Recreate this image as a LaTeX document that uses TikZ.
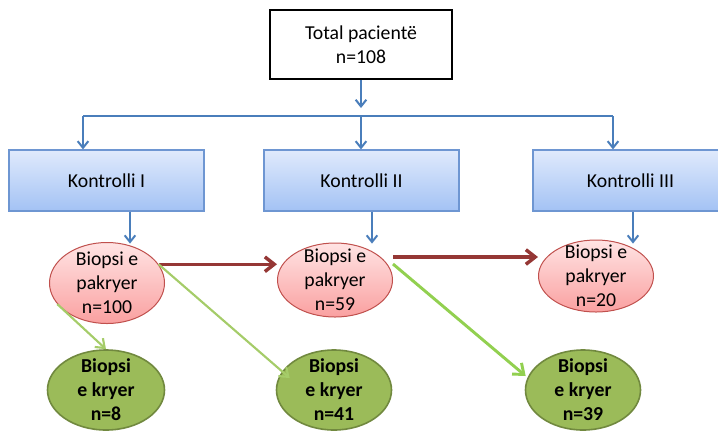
\documentclass[tikz,border=0pt]{standalone}
\usepackage{fontspec}
\setmainfont{Carlito}
\usepackage{xcolor}
\usepackage{tikz}
\usetikzlibrary{calc,arrows.meta,positioning,shapes.geometric}

\definecolor{linkblue}{RGB}{74,126,187}
\definecolor{boxedge}{RGB}{110,150,210}
\definecolor{boxtop}{RGB}{224,234,252}
\definecolor{boxbot}{RGB}{163,194,244}
\definecolor{pinkedge}{RGB}{192,80,77}
\definecolor{pinktop}{RGB}{255,228,228}
\definecolor{pinkbot}{RGB}{250,160,160}
\definecolor{stopred}{RGB}{149,55,53}
\definecolor{greenfill}{RGB}{155,187,89}
\definecolor{greenedge}{RGB}{113,137,63}
\definecolor{greenline}{RGB}{165,204,105}
\definecolor{greenbright}{RGB}{146,208,80}

\begin{document}
\begin{tikzpicture}[x=0.75pt,y=-0.75pt,line width=0.75pt,
  every node/.style={font=\fontsize{14.8}{18}\selectfont,align=center,inner sep=0pt},
  total/.style={draw=black,line width=1.5pt,fill=white,minimum width=136.5pt,minimum height=51.75pt},
  ctrl/.style={draw=boxedge,line width=0.9pt,top color=boxtop,bottom color=boxbot,minimum width=146.25pt,minimum height=45.75pt},
  open/.style={ellipse,draw=pinkedge,line width=0.75pt,top color=pinktop,bottom color=pinkbot,minimum width=86.25pt,inner ysep=-8pt},
  done/.style={ellipse,draw=greenedge,line width=1.2pt,fill=greenfill,minimum width=86.25pt,minimum height=60pt,inner ysep=-8pt,font=\fontsize{14.8}{18}\selectfont\bfseries},
  flow/.style={draw=linkblue,line width=1.5pt,-{Straight Barb[length=5pt,width=8pt]}},
  stop/.style={draw=stopred,line width=2.6pt,-{Straight Barb[length=7pt,width=11pt]}},
  yes/.style={draw=greenline,line width=1.6pt,-{Straight Barb[length=6pt,width=9pt]}},
  yesbright/.style={draw=greenbright,line width=2.2pt,-{Straight Barb[length=7pt,width=11pt]}}]
  \useasboundingbox (0,0) rectangle (718,430);

  % Layout anchors
  \node[total] (total) at (361,44.5) {Total pacientë\\n=108};
  \coordinate (tip0) at (361,108);
  \coordinate (barL) at (83,116);
  \coordinate (barM) at (361,116);
  \coordinate (barR) at (613,116);

  % --- Controls ---
  \node[ctrl] (k1) at (106.5,180.5) {Kontrolli I};
  \node[ctrl] (k2) at (361.5,180.5) {Kontrolli II};
  \node[ctrl] (k3) at (630.5,180.5) {Kontrolli III};

  % --- Biopsies not done ---
  \node[open,minimum height=60.75pt] (e1) at (107,283) {Biopsi e\\pakryer\\n=100};
  \node[open,minimum height=55.5pt] (e2) at (335,280) {Biopsi e\\pakryer\\n=59};
  \node[open,minimum height=54pt] (e3) at (596,276) {Biopsi e\\pakryer\\n=20};

  % --- Biopsies done ---
  \node[done,minimum width=87.75pt] (g1) at (106,390) {Biopsi\\e kryer\\n=8};
  \node[done] (g2) at (334,390) {Biopsi\\e kryer\\n=41};
  \node[done] (g3) at (583,390) {Biopsi\\e kryer\\n=39};

  % split to the controls
  \draw[flow] (total) -- (tip0);
  \draw[linkblue,line width=1.5pt] (barL) -- (barR);
  \draw[flow] (barL) -- (barL |- k1.north);
  \draw[flow] (barM) -- (barM |- k2.north);
  \draw[flow] (barR) -- (barR |- k3.north);

  % control to biopsy
  \draw[flow] ($(k1.south)+(23.5,0)$) -- ++(0,32);
  \draw[flow] ($(k2.south)+(10.5,0)$) -- ++(0,32);
  \draw[flow] ($(k3.south)+(2.5,0)$) -- ++(0,32);

  % carried to next control
  \draw[stop] (e1.20) -- (e1.20 -| e2.west);
  \draw[stop] ($(e2.east)+(0,-23)$) coordinate (r2) -- (r2 -| e3.west);

  % biopsies done
  \draw[yes] (e1.203) -- (g1.north);
  \draw[yes] (e1.20) -- ($(g2.west)+(14,-12)$);
  \draw[yesbright] ($(e2.east)+(0,-16)$) -- ($(g3.west)+(1,-14)$);
\end{tikzpicture}
\end{document}
